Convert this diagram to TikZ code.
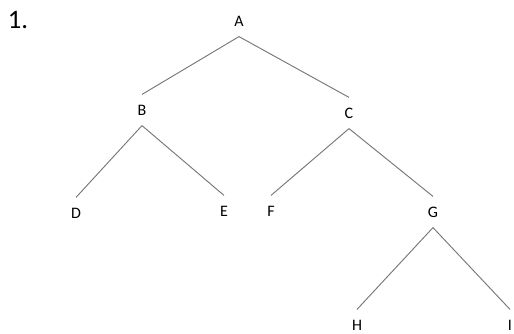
\documentclass[tikz,border=0pt]{standalone}
\usepackage{fontspec}
\setmainfont{Carlito}
\usetikzlibrary{positioning}
\definecolor{ec}{RGB}{118,118,118}
\tikzset{v/.style={inner sep=0pt,minimum height=23pt,font=\fontsize{12}{14}\selectfont},
 edge/.style={draw=ec,line width=.7pt},
 num/.style={inner sep=0pt,font=\fontsize{20}{24}\selectfont}}
\begin{document}
\begin{tikzpicture}[x=.75pt,y=-.75pt]
\useasboundingbox (0,0) rectangle (514,333);
\node[num] (n) at (18,20) {1.};
\node[v] (a) at (239,21) {A};
\node[v] (b) at (142,110) {B};
\node[v] (c) at (349,113) {C};
\node[v] (d) at (76,213) {D};
\node[v] (e) at (224,211) {E};
\node[v] (f) at (271,211) {F};
\node[v] (g) at (433,212) {G};
\node[v] (h) at (357,325) {H};
\node[v] (i) at (510,325) {I};
\foreach \u/\v in {a/b,a/c,b/d,b/e,c/f,c/g,g/h,g/i}{\draw[edge] (\u.south)--(\v.north);}
\end{tikzpicture}
\end{document}
